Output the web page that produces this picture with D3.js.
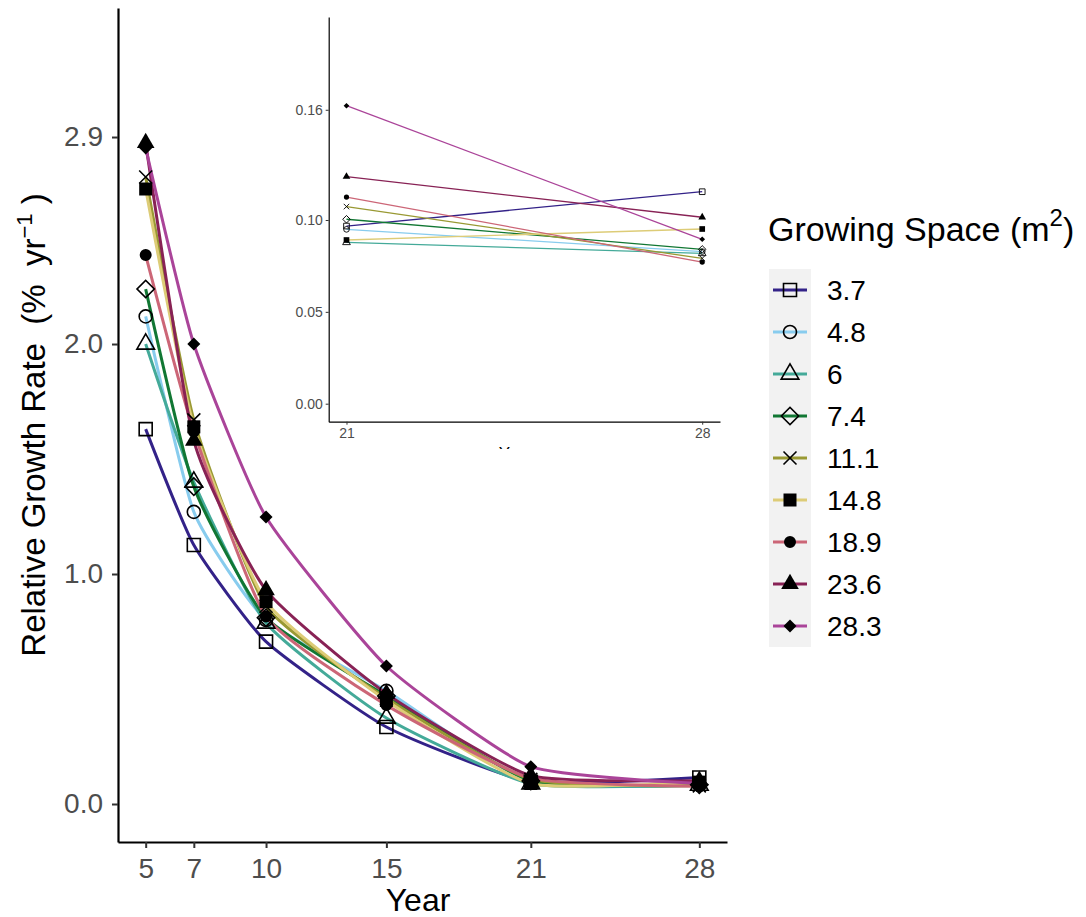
<!DOCTYPE html>
<html>
<head>
<meta charset="utf-8">
<script src="https://cdn.jsdelivr.net/npm/d3@7"></script>
<style>
  body { margin: 0; background: #fff; }
  text { font-family: "Liberation Sans", Arial, Helvetica, sans-serif; white-space: pre; }
</style>
</head>
<body>
<div id="chart"></div>
<script>
// years sampled and the growing space groups
const years = [5, 7, 10, 15, 21, 28];
const spaces = ['3.7', '4.8', '6', '7.4', '11.1', '14.8', '18.9', '23.6', '28.3'];

// relative growth rate (% per yr) for each growing space, one value per year
const rgr_3_7  = [1.63, 1.126, 0.706, 0.335, 0.0967, 0.1154];
const rgr_4_8  = [2.12, 1.27, 0.80, 0.492, 0.0949, 0.0828];
const rgr_6    = [2.00, 1.40, 0.787, 0.374, 0.0878, 0.0818];
const rgr_7_4  = [2.239, 1.38, 0.81, 0.47, 0.1004, 0.0840];
const rgr_11_1 = [2.726, 1.67, 0.86, 0.46, 0.1073, 0.0791];
const rgr_14_8 = [2.674, 1.64, 0.88, 0.45, 0.0891, 0.0951];
const rgr_18_9 = [2.387, 1.62, 0.815, 0.43, 0.1125, 0.0771];
const rgr_23_6 = [2.874, 1.58, 0.93, 0.48, 0.1236, 0.1015];
const rgr_28_3 = [2.852, 2.00, 1.248, 0.60, 0.1622, 0.0895];

const mainYTicks = [0, 1, 2, 2.9];
const insetYTicks = [0, 0.05, 0.10, 0.16];
const insetYears = [21, 28];

const seriesValues = [rgr_3_7, rgr_4_8, rgr_6, rgr_7_4, rgr_11_1, rgr_14_8, rgr_18_9, rgr_23_6, rgr_28_3];
const colors = ['#332288', '#88CCEE', '#44AA99', '#117733', '#999933', '#DDCC77', '#CC6677', '#882255', '#AA4499'];

// ggplot shapes 0,1,2,5,4,15,16,17,18
const shapeType = ['square', 'circle', 'triangle', 'diamond', 'times', 'square', 'circle', 'triangle', 'diamond'];
const shapeFilled = [false, false, false, false, false, true, true, true, true];
const shapeSize = [169, 133, 135, 150, 112, 169, 113, 135, 85];

const series = spaces.map((s, i) => ({
    name: s,
    color: colors[i],
    idx: i,
    values: years.map((y, j) => [y, seriesValues[i][j]])
}));

const width = 1086;
const height = 917;

const svg = d3.select('#chart')
    .append('svg')
    .attr('width', width)
    .attr('height', height);

// symbol helper
function symbolPath(i, k) {
    const t = shapeType[i];
    let type = d3.symbolSquare;
    if (t === 'circle') type = d3.symbolCircle;
    if (t === 'triangle') type = d3.symbolTriangle;
    if (t === 'times') type = d3.symbolTimes;
    return d3.symbol().type(type).size(shapeSize[i] * k)();
}

function drawSymbol(sel, i, k, strokeW) {
    const p = sel.append('path')
        .attr('d', symbolPath(i, k));
    if (shapeType[i] === 'diamond') p.attr('transform', 'rotate(45)');
    if (shapeFilled[i]) {
        p.attr('fill', '#000').attr('stroke', 'none');
    } else {
        p.attr('fill', 'none').attr('stroke', '#000').attr('stroke-width', strokeW);
    }
    return p;
}

// ---------------- main panel ----------------
const xScale = d3.scaleLinear()
    .domain([3.85, 29.15])
    .range([118, 727]);

const yScale = d3.scaleLinear()
    .domain([-0.1652, 3.461])
    .range([842, 8]);

const line = d3.line()
    .x(d => xScale(d[0]))
    .y(d => yScale(d[1]))
    .curve(d3.curveCardinal.tension(0.5));

const mainG = svg.append('g');

mainG.selectAll('.rgr-line')
    .data(series)
    .enter()
    .append('path')
        .attr('class', 'rgr-line')
        .attr('fill', 'none')
        .attr('stroke', d => d.color)
        .attr('stroke-width', 3)
        .attr('d', d => line(d.values));

series.forEach(s => {
    s.values.forEach(v => {
        const g = mainG.append('g')
            .attr('transform', `translate(${xScale(v[0])},${yScale(v[1])})`);
        drawSymbol(g, s.idx, 1, 1.6);
    });
});

// axes
const yAxis = d3.axisLeft(yScale)
    .tickValues(mainYTicks)
    .tickFormat(d3.format('.1f'))
    .tickSizeInner(6)
    .tickSizeOuter(0)
    .tickPadding(9);

const xAxis = d3.axisBottom(xScale)
    .tickValues(years)
    .tickSizeInner(6)
    .tickSizeOuter(0)
    .tickPadding(10);

const yAxisG = svg.append('g')
    .attr('transform', 'translate(118,0)')
    .call(yAxis);

const xAxisG = svg.append('g')
    .attr('transform', 'translate(0,842)')
    .call(xAxis);

[yAxisG, xAxisG].forEach(a => {
    a.select('.domain').attr('stroke', '#000').attr('stroke-width', 2.2);
    a.selectAll('.tick line').attr('stroke', '#333').attr('stroke-width', 2);
    a.selectAll('.tick text')
        .attr('fill', '#4d4d4d')
        .style('font-size', '28px')
        .style('font-family', '"Liberation Sans", Arial, sans-serif');
});

// axis titles
svg.append('text')
    .attr('x', 418)
    .attr('y', 911)
    .attr('text-anchor', 'middle')
    .style('font-size', '32px')
    .attr('fill', '#000')
    .text('Year');

const yTitle = svg.append('text')
    .attr('transform', 'translate(45,425) rotate(-90)')
    .attr('text-anchor', 'middle')
    .style('font-size', '33px')
    .attr('fill', '#000');
yTitle.append('tspan').text('Relative Growth Rate  (%  yr');
yTitle.append('tspan').attr('dy', -13).style('font-size', '22px').text('\u22121');
yTitle.append('tspan').attr('dy', 13).text(' )');

// ---------------- inset ----------------
const insetX = d3.scaleLinear()
    .domain([20.65, 28.35])
    .range([328.7, 720]);

const insetY = d3.scaleLinear()
    .domain([-0.0098, 0.2105])
    .range([421.7, 17]);

const insetLine = d3.line()
    .x(d => insetX(d[0]))
    .y(d => insetY(d[1]));

const insetG = svg.append('g');

insetG.selectAll('.inset-line')
    .data(series)
    .enter()
    .append('path')
        .attr('class', 'inset-line')
        .attr('fill', 'none')
        .attr('stroke', d => d.color)
        .attr('stroke-width', 1.3)
        .attr('d', d => insetLine(d.values.filter(v => insetYears.includes(v[0]))));

series.forEach(s => {
    s.values.filter(v => insetYears.includes(v[0])).forEach(v => {
        const g = insetG.append('g')
            .attr('transform', `translate(${insetX(v[0])},${insetY(v[1])})`);
        drawSymbol(g, s.idx, 0.19, 0.9);
    });
});

const insetYAxis = d3.axisLeft(insetY)
    .tickValues(insetYTicks)
    .tickFormat(d3.format('.2f'))
    .tickSizeInner(3)
    .tickSizeOuter(0)
    .tickPadding(3);

const insetXAxis = d3.axisBottom(insetX)
    .tickValues(insetYears)
    .tickSizeInner(3)
    .tickSizeOuter(0)
    .tickPadding(3);

const iyG = insetG.append('g')
    .attr('transform', 'translate(328.7,0)')
    .call(insetYAxis);

const ixG = insetG.append('g')
    .attr('transform', 'translate(0,421.7)')
    .call(insetXAxis);

[iyG, ixG].forEach(a => {
    a.select('.domain').attr('stroke', '#000').attr('stroke-width', 1.2);
    a.selectAll('.tick line').attr('stroke', '#333').attr('stroke-width', 1);
    a.selectAll('.tick text')
        .attr('fill', '#4d4d4d')
        .style('font-size', '14px')
        .style('font-family', '"Liberation Sans", Arial, sans-serif');
});

// the inset's own x title is cut off at the bottom of its viewport
svg.append('clipPath')
    .attr('id', 'inset-clip')
    .append('rect')
        .attr('x', 300)
        .attr('y', 0)
        .attr('width', 450)
        .attr('height', 449);

svg.append('text')
    .attr('clip-path', 'url(#inset-clip)')
    .attr('x', 516)
    .attr('y', 459)
    .attr('text-anchor', 'middle')
    .style('font-size', '17px')
    .attr('fill', '#000')
    .text('Year');

// ---------------- legend ----------------
const legendTitle = svg.append('text')
    .attr('x', 768)
    .attr('y', 241)
    .style('font-size', '34px')
    .attr('fill', '#000');
legendTitle.append('tspan').text('Growing Space (m');
legendTitle.append('tspan').attr('dy', -15).style('font-size', '24px').text('2');
legendTitle.append('tspan').attr('dy', 15).text(')');

const legendG = svg.append('g');

legendG.append('rect')
    .attr('x', 769)
    .attr('y', 269)
    .attr('width', 42)
    .attr('height', 378)
    .attr('fill', '#f2f2f2');

const keyY = d3.scalePoint()
    .domain(spaces)
    .range([290, 626]);

series.forEach(s => {
    const k = legendG.append('g')
        .attr('transform', `translate(790,${keyY(s.name)})`);
    k.append('line')
        .attr('x1', -17)
        .attr('x2', 17)
        .attr('stroke', s.color)
        .attr('stroke-width', 3);
    drawSymbol(k, s.idx, 1, 1.6);
    legendG.append('text')
        .attr('x', 827)
        .attr('y', keyY(s.name))
        .attr('dy', '0.36em')
        .style('font-size', '28px')
        .attr('fill', '#000')
        .text(s.name);
});
</script>
</body>
</html>
